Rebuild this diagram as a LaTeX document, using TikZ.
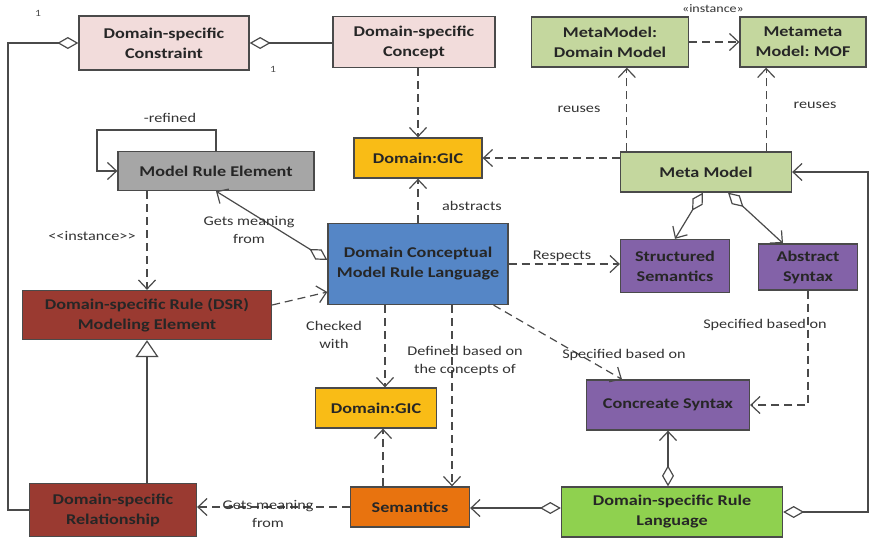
\documentclass[tikz,border=0pt]{standalone}
\usepackage{fontspec}
\setmainfont{Carlito}[FakeStretch=1.22]
\usetikzlibrary{arrows.meta,calc}
\frenchspacing

\definecolor{cpink}{HTML}{F2DCDB}
\definecolor{cgold}{HTML}{F9BC16}
\definecolor{cgray}{HTML}{A6A6A6}
\definecolor{cblue}{HTML}{5586C6}
\definecolor{cred}{HTML}{9A3A31}
\definecolor{colive}{HTML}{C4D79E}
\definecolor{cpurple}{HTML}{8362A8}
\definecolor{corange}{HTML}{E8730F}
\definecolor{cgreen}{HTML}{8FD14F}
\definecolor{cline}{HTML}{4A4A4A}

\tikzset{
  box/.style={draw=cline, line width=1.3pt, align=center, inner sep=0pt,
    font=\bfseries\fontsize{14.9}{20}\selectfont, text=black!85},
  lbl/.style={align=center, text=black!80, font=\fontsize{13.3}{18}\selectfont},
  conn/.style={draw=cline, line width=1.2pt},
  dsh/.style={conn, dash pattern=on 8pt off 5pt},
  vtip/.tip={Straight Barb[length=9pt,width=17pt,line width=1.2pt]},
  dtip/.tip={Diamond[open,length=21pt,width=12pt,line width=1.2pt]},
  ttip/.tip={Triangle[open,length=17pt,width=23pt,line width=1.2pt]},
  mult/.style={font=\fontsize{9.5}{10}\selectfont, text=black!70},
}

\begin{document}
\begin{tikzpicture}[x=1pt,y=-1pt]
\fill[white] (0,0) rectangle (873,542);
\useasboundingbox (0,0) rectangle (873,542);

% boxes
\node[box, fill=cpink,  minimum width=170pt, minimum height=54pt] (cons) at (164,43) {Domain-specific\\Constraint};
\node[box, fill=cpink,  minimum width=162pt, minimum height=51pt] (conc) at (414,42) {Domain-specific\\Concept};
\node[box, fill=colive, minimum width=157pt, minimum height=50pt] (mdm)  at (610,42) {MetaModel:\\Domain Model};
\node[box, fill=colive, minimum width=126pt, minimum height=50pt] (mmof) at (803,42) {Metameta\\Model: MOF};
\node[box, fill=colive, minimum width=171pt, minimum height=40pt] (mm)   at (706,172) {Meta Model};
\node[box, fill=cgold,  minimum width=128pt, minimum height=40pt] (gica) at (418,158) {Domain:GIC};
\node[box, fill=cgray,  minimum width=196pt, minimum height=39pt] (mre)  at (216,171) {Model Rule Element};
\node[box, fill=cblue,  minimum width=180pt, minimum height=81pt] (dcm)  at (418,264) {Domain Conceptual\\Model Rule Language};
\node[box, fill=cpurple,minimum width=109pt, minimum height=53pt] (ss)   at (675,266) {Structured\\Semantics};
\node[box, fill=cpurple,minimum width=99pt,  minimum height=46pt] (as)   at (808,267) {Abstract\\Syntax};
\node[box, fill=cred,   minimum width=249pt, minimum height=49pt] (dsr)  at (147,315) {Domain-specific Rule (DSR)\\Modeling Element};
\node[box, fill=cred,   minimum width=167pt, minimum height=53pt] (rel)  at (113,510) {Domain-specific\\Relationship};
\node[box, fill=cgold,  minimum width=121pt, minimum height=40pt] (gicb) at (376,408) {Domain:GIC};
\node[box, fill=corange,minimum width=119pt, minimum height=40pt] (sem)  at (410,507) {Semantics};
\node[box, fill=cpurple,minimum width=163pt, minimum height=50pt] (cs)   at (668,405) {Concreate Syntax};
\node[box, fill=cgreen, minimum width=221pt, minimum height=50pt] (dsrl) at (672,512) {Domain-specific Rule\\Language};

% routing points
\coordinate (lft) at (8,0);
\coordinate (rgt) at (868,0);
\coordinate (loop) at (97,130);

% aggregation between constraints, concepts and relationships
\draw[conn, dtip-] (cons.east) -- (cons.east -| conc.west);
\draw[conn, dtip-] (cons.west) -- (cons.west -| lft) |- (rel.west);
\node[mult] (one1) at (38,13) {1};
\node[mult] (one2) at (273,69) {1};

% concept to GIC
\draw[dsh, -vtip] (gica.north |- conc.south) -- (gica.north);

% self-refinement of model rule element
\draw[conn, -vtip] (mre.north) |- (loop) |- (mre.west);
\node[lbl] (refl) at (170,118) {-refined};

% instance relation
\draw[dsh, -vtip] (mre.south -| dsr.north) -- (dsr.north);
\node[lbl] (instl) at (92,236) {{<}{<}instance{>}{>}};

% abstracts
\draw[dsh, -vtip] (dcm.north) -- (gica.south);
\node[lbl] (absl) at (472,206) {abstracts};

% meta model relations
\coordinate (mmg) at ($(mm.west)+(0,-14)$);
\draw[dsh, -vtip] (mmg) -- (mmg -| gica.east);
\coordinate (mmr1) at ($(mm.north west)+(7,0)$);
\coordinate (mmr2) at ($(mm.north east)+(-26,0)$);
\draw[dsh, -vtip] (mmr1) -- (mmr1 |- mdm.south);
\draw[dsh, -vtip] (mmr2) -- (mmr2 |- mmof.south);
\node[lbl] (reu1) at (579,109) {reuses};
\node[lbl] (reu2) at (815,105) {reuses};
\draw[dsh, -vtip] (mdm.east) -- (mmof.west);
\node[lbl, font=\fontsize{11.5}{12}\selectfont, fill=white, inner sep=1pt] (instm) at (713,9) {«instance»};

\draw[conn, dtip-vtip] ($(mm.south)+(-3,0)$) -- (ss.north);
\draw[conn, dtip-vtip] ($(mm.south)+(22,0)$) -- ($(as.north)+(-25,0)$);

% respects
\draw[dsh, -vtip] (dcm.east) -- (dcm.east -| ss.west);
\node[lbl] (resl) at (562,256) {Respects};

% gets meaning from (model rule element)
\draw[conn, dtip-vtip] ($(dcm.west)+(0,-4)$) -- (mre.south);
\node[lbl] (gm1) at (249,230) {Gets meaning\\from};

% DSR modeling element to language
\draw[dsh, -vtip] ($(dsr.east)+(0,-10)$) -- ($(dcm.west)+(0,28)$);

% generalization
\draw[conn, -ttip] (rel.north -| dsr.south) -- (dsr.south);

% checked with / defined based on
\coordinate (ck) at ($(gicb.north)+(9,0)$);
\draw[dsh, -vtip] (ck |- dcm.south) -- (ck);
\node[lbl] (ckl) at (334,335) {Checked\\with};
\coordinate (df) at ($(sem.north)+(42,0)$);
\draw[dsh, -vtip] (df |- dcm.south) -- (df);
\node[lbl] (dfl) at (465,361) {Defined based on\\the concepts of};

% semantics relations
\coordinate (sg) at ($(gicb.south)+(7,0)$);
\draw[dsh, -vtip] (sg |- sem.north) -- (sg);
\draw[dsh, -vtip] (sem.west) -- (sem.west -| rel.east);
\node[lbl] (gm2) at (268,514) {Gets meaning\\from};

% specified based on
\draw[dsh, -vtip] ($(dcm.south east)+(-15,0)$) -- ($(cs.north)+(-46,0)$);
\node[lbl] (sp1) at (624,355) {Specified based on};
\draw[dsh, -vtip] (as.south) -- (as.south |- cs.east) -- (cs.east);
\node[lbl] (sp2) at (765,325) {Specified based on};

% domain-specific rule language aggregations
\draw[conn, dtip-vtip] (dsrl.north -| cs.south) -- (cs.south);
\coordinate (dl) at ($(dsrl.west)+(0,-4)$);
\draw[conn, dtip-vtip] (dl) -- (dl -| sem.east);
\draw[conn, dtip-vtip] (dsrl.east) -- (dsrl.east -| rgt) |- (mm.east);
\end{tikzpicture}
\end{document}
